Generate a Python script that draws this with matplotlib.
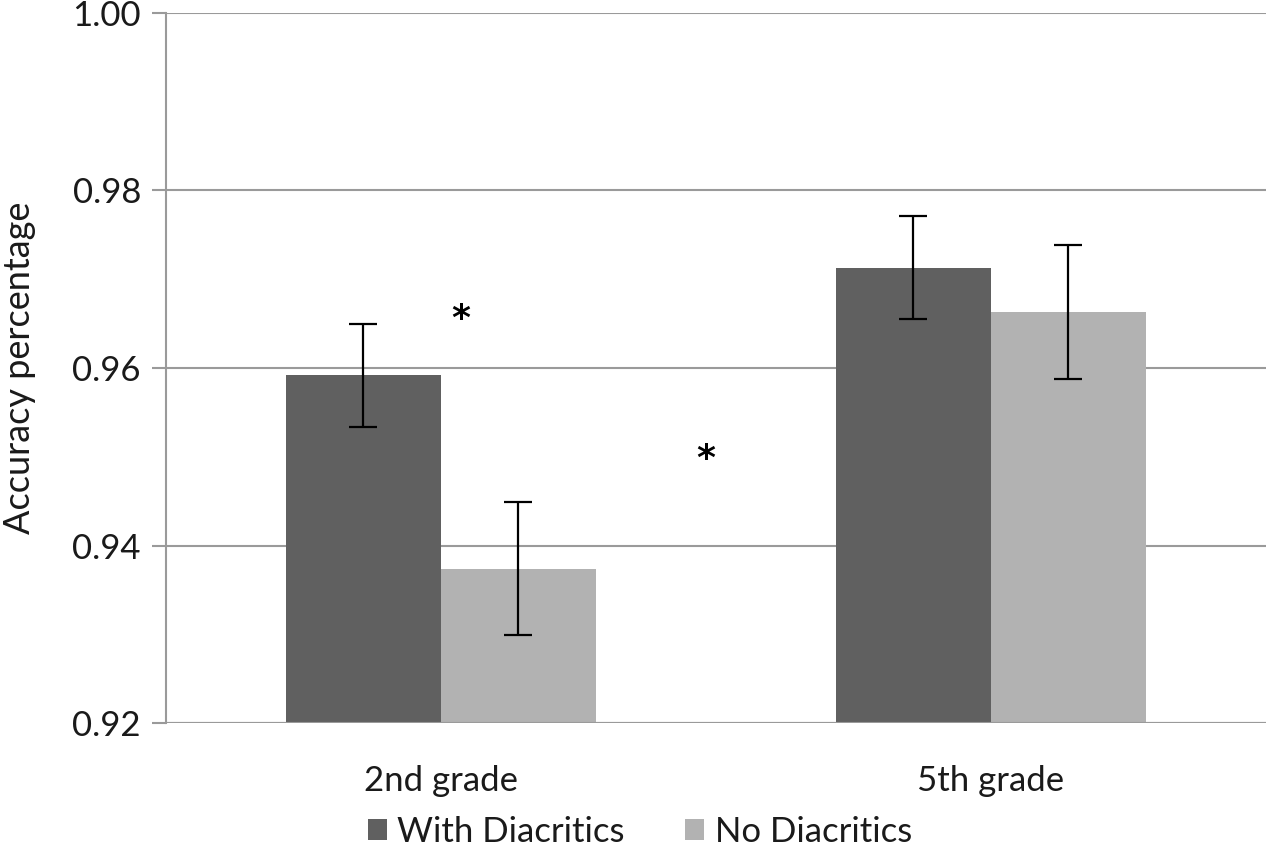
import numpy as np
import matplotlib
matplotlib.use('Agg')
import matplotlib.pyplot as plt

plt.rcParams['font.family'] = ['Lato', 'DejaVu Sans']

# Данные
grades = ['2nd grade', '5th grade']
series_names = ['With Diacritics', 'No Diacritics']
with_diacritics = [0.9592, 0.9713]
with_err = [0.0058, 0.0058]
no_diacritics = [0.9374, 0.9663]
no_err = [0.0075, 0.0075]
y_ticks = [0.92, 0.94, 0.96, 0.98, 1.00]

# Звёздочки значимости (позиция в координатах данных)
stars_x = [0.036, 0.481]
stars_y = [0.9655, 0.9498]

dark = '#606060'
light = '#b2b2b2'
grid_col = '#9a9a9a'
text_col = '#1a1a1a'

fig = plt.figure(figsize=(12.67, 8.5), dpi=100)
ax = fig.add_axes([0.131, 0.149, 0.868, 0.836])

x = np.arange(len(grades))
w = 0.282

ax.bar(x - w / 2, with_diacritics, w, color=dark, label=series_names[0], zorder=3)
ax.bar(x + w / 2, no_diacritics, w, color=light, label=series_names[1], zorder=3)
ax.errorbar(x - w / 2, with_diacritics, yerr=with_err, fmt='none', ecolor='black',
            elinewidth=1.6, capsize=10, capthick=1.6, zorder=4)
ax.errorbar(x + w / 2, no_diacritics, yerr=no_err, fmt='none', ecolor='black',
            elinewidth=1.6, capsize=10, capthick=1.6, zorder=4)

for sx, sy in zip(stars_x, stars_y):
    ax.text(sx, sy, '*', ha='center', va='center', fontsize=26, color='black',
            family='DejaVu Sans', weight='bold')

ax.set_xlim(-0.5, 1.5)
ax.set_ylim(0.92, 1.00)
ax.set_yticks(y_ticks)
ax.set_yticklabels([f'{t:.2f}' for t in y_ticks])
ax.set_xticks(x)
ax.set_xticklabels(grades)

ax.yaxis.grid(True, color=grid_col, linewidth=1.5, zorder=0)
ax.set_axisbelow(True)

for side in ['top', 'right', 'bottom']:
    ax.spines[side].set_visible(False)
ax.spines['left'].set_color(grid_col)
ax.spines['left'].set_linewidth(1.5)
ax.axhline(0.92, color=grid_col, linewidth=1.5, zorder=5)

ax.tick_params(axis='y', length=10, width=1.5, color=grid_col, labelsize=25,
               pad=8, labelcolor=text_col)
ax.tick_params(axis='x', length=0, labelsize=25, pad=30, labelcolor=text_col)

ax.set_ylabel('Accuracy percentage', fontsize=26, color=text_col)
ax.yaxis.set_label_coords(-0.118, 0.5)

fig.legend(loc='center', bbox_to_anchor=(0.505, 0.021), ncol=2, frameon=False,
           fontsize=25, handlelength=0.55, handleheight=0.55, handletextpad=0.3,
           columnspacing=1.75, labelcolor=text_col)

plt.savefig('out.png', dpi=100)
